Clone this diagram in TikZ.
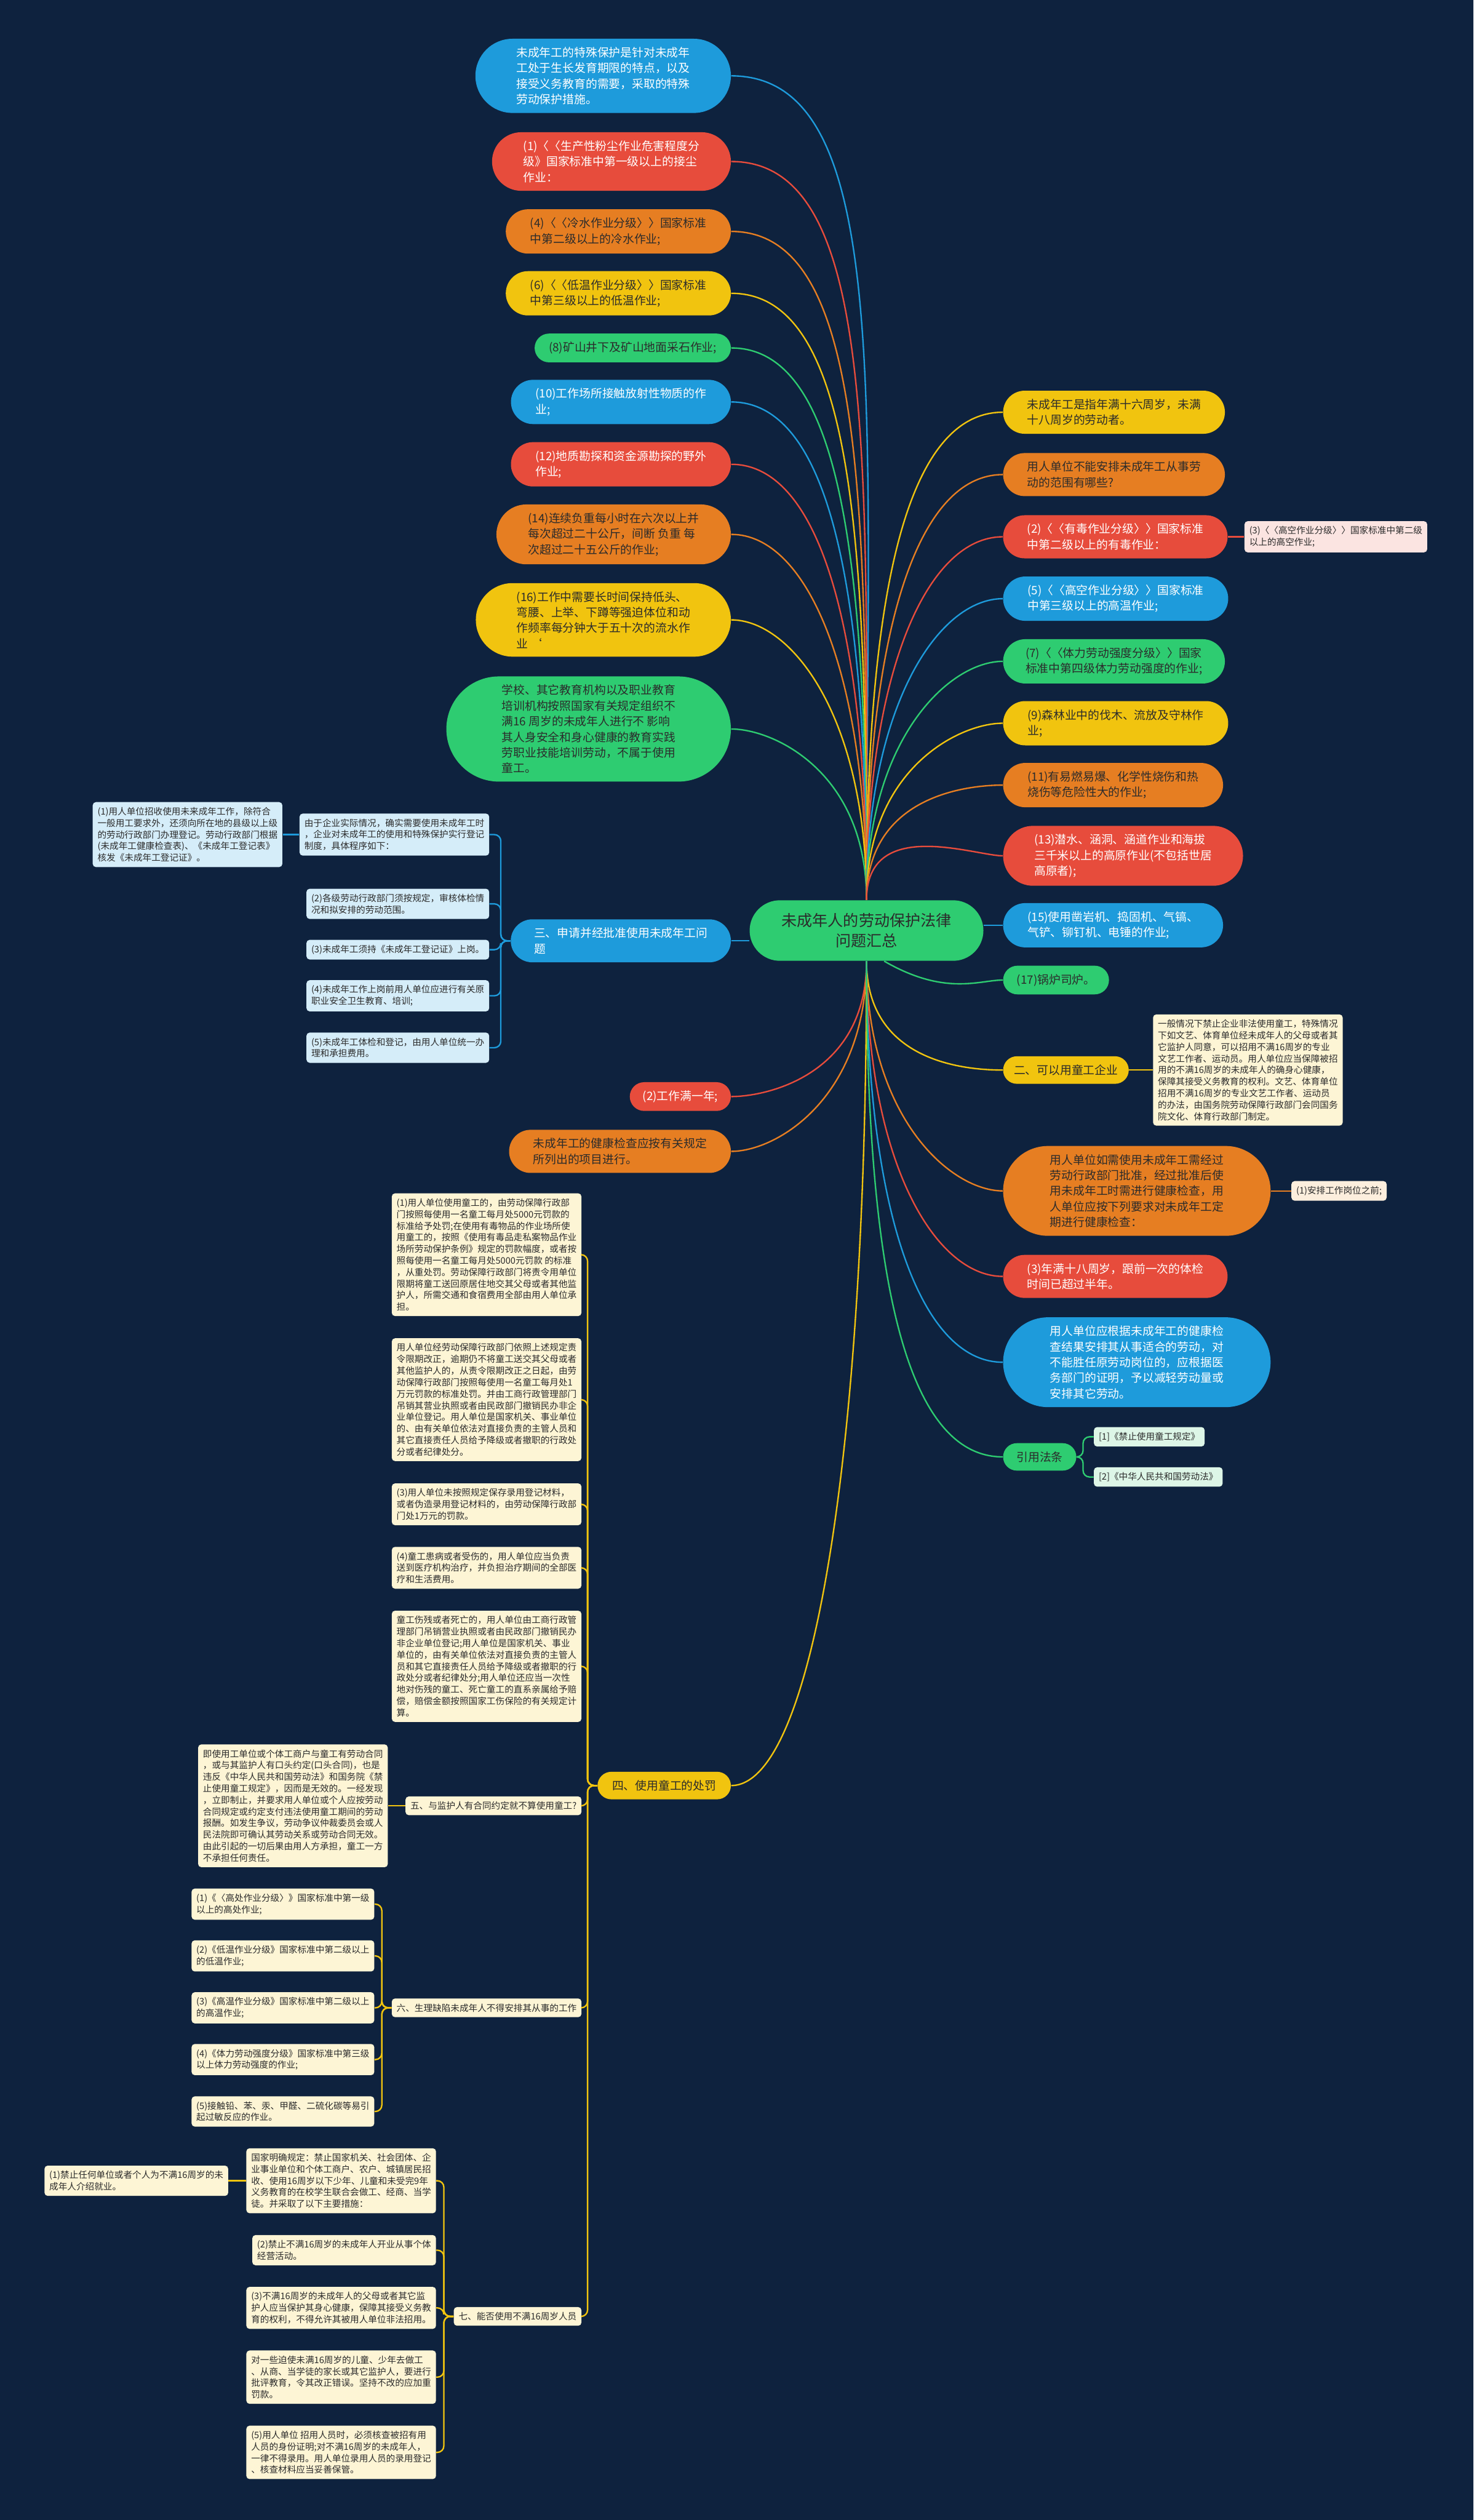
\documentclass[tikz,border=0pt]{standalone}
\usepackage{fontspec}
\setmainfont{Noto Sans CJK SC}
\usetikzlibrary{positioning, shapes.misc, calc}

\definecolor{navy}{RGB}{14,34,62}
\definecolor{mapblue}{HTML}{1E9BDB}
\definecolor{mapred}{HTML}{E74C3C}
\definecolor{maporange}{HTML}{E67E22}
\definecolor{mapyellow}{HTML}{F1C40F}
\definecolor{mapgreen}{HTML}{2ECC71}
\definecolor{inkdark}{HTML}{2B2B2B}
\definecolor{paleblue}{HTML}{D5EDF9}
\definecolor{cream}{HTML}{FDF5D5}
\definecolor{palepink}{HTML}{FBE4E1}
\definecolor{palepeach}{HTML}{FCEEDD}
\definecolor{palegreen}{HTML}{DDF6E7}

\begin{document}
\begin{tikzpicture}[x=1pt, y=-1pt,
    % Define styles for the coloured topic pills
    topic/.style={rounded rectangle, inner xsep=12.2pt, inner ysep=5.2pt, align=left, font=\fontsize{7.2}{9.7}\selectfont},
    pad/.style={inner xsep=#1},
    tblue/.style={topic, fill=mapblue, text=white},
    tred/.style={topic, fill=mapred, text=white},
    torange/.style={topic, fill=maporange, text=inkdark},
    tyellow/.style={topic, fill=mapyellow, text=inkdark},
    tgreen/.style={topic, fill=mapgreen, text=inkdark},
    % Define style for the small detail boxes
    detail/.style={rectangle, rounded corners=2pt, inner xsep=3pt, inner ysep=3.2pt, align=left, text=inkdark, font=\fontsize{5.6}{7.2}\selectfont},
    % Define edge styles
    link/.style={line width=0.9pt, out looseness=1.5, in looseness=0.5},
    fork/.style={line width=0.9pt, rounded corners=4pt}
]

    % --- Configuration ---
    \def\leftEdge{455}    % right end of the left column
    \def\rightEdge{624}   % left end of the right column

    % --- Helper Macros for Connections ---
    % Arguments: (hub, leaving angle, topic, colour)
    \newcommand{\toleft}[4]{\draw[link, #4] (#1) to[out=#2, in=0] (#3.east);}
    \newcommand{\toright}[4]{\draw[link, #4] (#1) to[out=#2, in=180] (#3.west);}
    % Arguments: (parent, child, colour)
    \newcommand{\forkleft}[3]{\draw[fork, #3] (#1.west) -- ++(-6,0) |- (#2.east);}
    \newcommand{\forkright}[3]{\draw[fork, #3] (#1.east) -- ++(4,0) |- (#2.west);}

    % --- Canvas ---
    \fill[navy] (0,0) rectangle (917,1568);
    \useasboundingbox (0,0) rectangle (917,1568);

    % --- The Central Topic ---
    \node[topic, fill=mapgreen, text=inkdark, align=center, pad=16.5pt, inner ysep=8pt,
          font=\fontsize{9.6}{12.8}\selectfont] (C) at (539.2,579) {未成年人的劳动保护法律\\问题汇总};

    % ================= LEFT UPPER COLUMN =================
    \node[tblue, anchor=east, pad=17pt] (L1) at (\leftEdge,47.2) {未成年工的特殊保护是针对未成年\\工处于生长发育期限的特点，以及\\接受义务教育的需要，采取的特殊\\劳动保护措施。};
    \node[tred, anchor=east, pad=14pt] (L2) at (\leftEdge,100.5) {(1)〈〈生产性粉尘作业危害程度分\\级》国家标准中第一级以上的接尘\\作业：};
    \node[torange, anchor=east] (L3) at (\leftEdge,144) {(4)〈〈冷水作业分级〉〉国家标准\\中第二级以上的冷水作业;};
    \node[tyellow, anchor=east] (L4) at (\leftEdge,182.5) {(6)〈〈低温作业分级〉〉国家标准\\中第三级以上的低温作业;};
    \node[tgreen, anchor=east, pad=8pt] (L5) at (\leftEdge,216.5) {(8)矿山井下及矿山地面采石作业;};
    \node[tblue, anchor=east] (L6) at (\leftEdge,250.1) {(10)工作场所接触放射性物质的作\\业;};
    \node[tred, anchor=east] (L7) at (\leftEdge,288.9) {(12)地质勘探和资金源勘探的野外\\作业;};
    \node[torange, anchor=east, pad=14pt] (L8) at (\leftEdge,332.5) {(14)连续负重每小时在六次以上并\\每次超过二十公斤，间断 负重 每\\次超过二十五公斤的作业;};
    \node[tyellow, anchor=east, pad=17pt] (L9) at (\leftEdge,385.7) {(16)工作中需要长时间保持低头、\\弯腰、上举、下蹲等强迫体位和动\\作频率每分钟大于五十次的流水作\\业 ‘};
    \node[tgreen, anchor=east, pad=19.5pt] (L10) at (\leftEdge,453.6) {学校、其它教育机构以及职业教育\\培训机构按照国家有关规定组织不\\满16 周岁的未成年人进行不 影响\\其人身安全和身心健康的教育实践\\劳职业技能培训劳动，不属于使用\\童工。};

    % --- Connect Left Upper Column ---
    \toleft{C.north}{90}{L1}{mapblue}
    \toleft{C.north}{90}{L2}{mapred}
    \toleft{C.north}{90}{L3}{maporange}
    \toleft{C.north}{90}{L4}{mapyellow}
    \toleft{C.north}{90}{L5}{mapgreen}
    \toleft{C.north}{90}{L6}{mapblue}
    \toleft{C.north}{90}{L7}{mapred}
    \toleft{C.north}{90}{L8}{maporange}
    \toleft{C.north}{90}{L9}{mapyellow}
    \toleft{C.north}{90}{L10}{mapgreen}

    % ================= SECTION THREE =================
    \node[tblue, anchor=east, pad=11.7pt] (San) at (\leftEdge,585.4) {三、申请并经批准使用未成年工问\\题};
    \draw[link, mapblue] (San.east) -- (San.east -| C.west);

    \node[detail, fill=paleblue, anchor=east] (Sa) at (304.6,519.3) {由于企业实际情况，确实需要使用未成年工时\\，企业对未成年工的使用和特殊保护实行登记\\制度，具体程序如下：};
    \node[detail, fill=paleblue, anchor=east] (Sa1) at (175.9,519.3) {(1)用人单位招收使用未来成年工作，除符合\\一般用工要求外，还须向所在地的县级以上级\\的劳动行政部门办理登记。劳动行政部门根据\\(未成年工健康检查表)、《未成年工登记表》\\核发《未成年工登记证》。};
    \node[detail, fill=paleblue, anchor=east] (Sb) at (304.6,562.4) {(2)各级劳动行政部门须按规定，审核体检情\\况和拟安排的劳动范围。};
    \node[detail, fill=paleblue, anchor=east] (Sc) at (304.6,590.9) {(3)未成年工须持《未成年工登记证》上岗。};
    \node[detail, fill=paleblue, anchor=east] (Sd) at (304.6,619.6) {(4)未成年工作上岗前用人单位应进行有关原\\职业安全卫生教育、培训;};
    \node[detail, fill=paleblue, anchor=east] (Se) at (304.6,651.9) {(5)未成年工体检和登记，由用人单位统一办\\理和承担费用。};

    \foreach \n in {Sa,Sb,Sc,Sd,Se} {\forkleft{San}{\n}{mapblue}}
    \draw[link, mapblue] (Sa.west) -- (Sa1.east);

    % ================= LEFT LOWER COLUMN =================
    \node[tred, anchor=east, pad=7.2pt] (W1) at (\leftEdge,682.3) {(2)工作满一年;};
    \node[torange, anchor=east] (HC) at (\leftEdge,716.4) {未成年工的健康检查应按有关规定\\所列出的项目进行。};
    \node[tyellow, anchor=east, pad=8.4pt] (Si) at (\leftEdge,1111) {四、使用童工的处罚};

    \toleft{C.south}{-90}{W1}{mapred}
    \toleft{C.south}{-90}{HC}{maporange}
    \draw[link, mapyellow, in looseness=0.25] (C.south) to[out=-90, in=0] (Si.east);

    % --- Penalties (children of section four) ---
    \node[detail, fill=cream, anchor=east] (P1) at (362,780.7) {(1)用人单位使用童工的，由劳动保障行政部\\门按照每使用一名童工每月处5000元罚款的\\标准给予处罚;在使用有毒物品的作业场所使\\用童工的，按照《使用有毒品走私案物品作业\\场所劳动保护条例》规定的罚款幅度，或者按\\照每使用一名童工每月处5000元罚款 的标准\\，从重处罚。劳动保障行政部门将责令用单位\\限期将童工送回原居住地交其父母或者其他监\\护人，所需交通和食宿费用全部由用人单位承\\担。};
    \node[detail, fill=cream, anchor=east] (P2) at (362,870.9) {用人单位经劳动保障行政部门依照上述规定责\\令限期改正，逾期仍不将童工送交其父母或者\\其他监护人的，从责令限期改正之日起，由劳\\动保障行政部门按照每使用一名童工每月处1\\万元罚款的标准处罚。并由工商行政管理部门\\吊销其营业执照或者由民政部门撤销民办非企\\业单位登记。用人单位是国家机关、事业单位\\的、由有关单位依法对直接负责的主管人员和\\其它直接责任人员给予降级或者撤职的行政处\\分或者纪律处分。};
    \node[detail, fill=cream, anchor=east] (P3) at (362,936) {(3)用人单位未按照规定保存录用登记材料，\\或者伪造录用登记材料的，由劳动保障行政部\\门处1万元的罚款。};
    \node[detail, fill=cream, anchor=east] (P4) at (362,975.5) {(4)童工患病或者受伤的，用人单位应当负责\\送到医疗机构治疗，并负担治疗期间的全部医\\疗和生活费用。};
    \node[detail, fill=cream, anchor=east] (P5) at (362,1036.8) {童工伤残或者死亡的，用人单位由工商行政管\\理部门吊销营业执照或者由民政部门撤销民办\\非企业单位登记;用人单位是国家机关、事业\\单位的，由有关单位依法对直接负责的主管人\\员和其它直接责任人员给予降级或者撤职的行\\政处分或者纪律处分;用人单位还应当一次性\\地对伤残的童工、死亡童工的直系亲属给予赔\\偿，赔偿金额按照国家工伤保险的有关规定计\\算。};
    \node[detail, fill=cream, anchor=east] (Wu) at (362,1123.6) {五、与监护人有合同约定就不算使用童工?};
    \node[detail, fill=cream, anchor=east] (Liu) at (362,1249.3) {六、生理缺陷未成年人不得安排其从事的工作};
    \node[detail, fill=cream, anchor=east] (Qi) at (362,1441.3) {七、能否使用不满16周岁人员};

    \foreach \n in {P1,P2,P3,P4,P5,Wu,Liu,Qi} {\forkleft{Si}{\n}{mapyellow}}

    % --- Section five ---
    \node[detail, fill=cream, anchor=east] (Wu1) at (241.5,1123.6) {即使用工单位或个体工商户与童工有劳动合同\\，或与其监护人有口头约定(口头合同)，也是\\违反《中华人民共和国劳动法》和国务院《禁\\止使用童工规定》，因而是无效的。一经发现\\，立即制止，并要求用人单位或个人应按劳动\\合同规定或约定支付违法使用童工期间的劳动\\报酬。如发生争议，劳动争议仲裁委员会或人\\民法院即可确认其劳动关系或劳动合同无效。\\由此引起的一切后果由用人方承担，童工一方\\不承担任何责任。};
    \draw[link, mapyellow] (Wu.west) -- (Wu1.east);

    % --- Section six ---
    \node[detail, fill=cream, anchor=east] (Liu1) at (233.1,1184.8) {(1)《〈高处作业分级〉》国家标准中第一级\\以上的高处作业;};
    \node[detail, fill=cream, anchor=east] (Liu2) at (233.1,1217) {(2)《低温作业分级》国家标准中第二级以上\\的低温作业;};
    \node[detail, fill=cream, anchor=east] (Liu3) at (233.1,1249.3) {(3)《高温作业分级》国家标准中第二级以上\\的高温作业;};
    \node[detail, fill=cream, anchor=east] (Liu4) at (233.1,1281.5) {(4)《体力劳动强度分级》国家标准中第三级\\以上体力劳动强度的作业;};
    \node[detail, fill=cream, anchor=east] (Liu5) at (233.1,1313.8) {(5)接触铅、苯、汞、甲醛、二硫化碳等易引\\起过敏反应的作业。};

    \foreach \n in {Liu1,Liu2,Liu3,Liu4,Liu5} {\forkleft{Liu}{\n}{mapyellow}}

    % --- Section seven ---
    \node[detail, fill=cream, anchor=east] (Qi1) at (271.5,1356.9) {国家明确规定：禁止国家机关、社会团体、企\\业事业单位和个体工商户、农户、城镇居民招\\收、使用16周岁以下少年、儿童和未受完9年\\义务教育的在校学生联合会做工、经商、当学\\徒。并采取了以下主要措施：};
    \node[detail, fill=cream, anchor=east] (Qi1a) at (142.2,1356.9) {(1)禁止任何单位或者个人为不满16周岁的未\\成年人介绍就业。};
    \node[detail, fill=cream, anchor=east] (Qi2) at (271.5,1400.1) {(2)禁止不满16周岁的未成年人开业从事个体\\经营活动。};
    \node[detail, fill=cream, anchor=east] (Qi3) at (271.5,1436) {(3)不满16周岁的未成年人的父母或者其它监\\护人应当保护其身心健康，保障其接受义务教\\育的权利，不得允许其被用人单位非法招用。};
    \node[detail, fill=cream, anchor=east] (Qi4) at (271.5,1479.1) {对一些迫使未满16周岁的儿童、少年去做工\\、从商、当学徒的家长或其它监护人，要进行\\批评教育，令其改正错误。坚持不改的应加重\\罚款。};
    \node[detail, fill=cream, anchor=east] (Qi5) at (271.5,1525.9) {(5)用人单位 招用人员时，必须核查被招有用\\人员的身份证明;对不满16周岁的未成年人，\\一律不得录用。用人单位录用人员的录用登记\\、核查材料应当妥善保管。};

    \foreach \n in {Qi1,Qi2,Qi3,Qi4,Qi5} {\forkleft{Qi}{\n}{mapyellow}}
    \draw[link, mapyellow] (Qi1.west) -- (Qi1a.east);

    % ================= RIGHT COLUMN =================
    \node[tyellow, anchor=west] (R1) at (\rightEdge,256.5) {未成年工是指年满十六周岁，未满\\十八周岁的劳动者。};
    \node[torange, anchor=west] (R2) at (\rightEdge,295.3) {用人单位不能安排未成年工从事劳\\动的范围有哪些?};
    \node[tred, anchor=west] (R3) at (\rightEdge,334) {(2)〈〈有毒作业分级〉〉国家标准\\中第二级以上的有毒作业：};
    \node[tblue, anchor=west] (R4) at (\rightEdge,372.5) {(5)〈〈高空作业分级〉〉国家标准\\中第三级以上的高温作业;};
    \node[tgreen, anchor=west, pad=11pt] (R5) at (\rightEdge,411.5) {(7)〈〈体力劳动强度分级〉〉国家\\标准中第四级体力劳动强度的作业;};
    \node[tyellow, anchor=west] (R6) at (\rightEdge,450) {(9)森林业中的伐木、流放及守林作\\业;};
    \node[torange, anchor=west] (R7) at (\rightEdge,488.5) {(11)有易燃易爆、化学性烧伤和热\\烧伤等危险性大的作业;};
    \node[tred, anchor=west, pad=13.7pt] (R8) at (\rightEdge,532.5) {(13)潜水、涵洞、涵道作业和海拔\\三千米以上的高原作业(不包括世居\\高原者);};
    \node[tblue, anchor=west] (R9) at (\rightEdge,575.7) {(15)使用凿岩机、捣固机、气镐、\\气铲、铆钉机、电锤的作业;};
    \node[tgreen, anchor=west, pad=7.7pt] (R10) at (\rightEdge,609.8) {(17)锅炉司炉。};
    \node[tyellow, anchor=west, pad=6pt] (R11) at (\rightEdge,665.8) {二、可以用童工企业};
    \node[torange, anchor=west, pad=17.5pt] (R12) at (\rightEdge,741) {用人单位如需使用未成年工需经过\\劳动行政部门批准，经过批准后使\\用未成年工时需进行健康检查，用\\人单位应按下列要求对未成年工定\\期进行健康检查：};
    \node[tred, anchor=west] (R13) at (\rightEdge,794.2) {(3)年满十八周岁，跟前一次的体检\\时间已超过半年。};
    \node[tblue, anchor=west, pad=17.5pt] (R14) at (\rightEdge,847.6) {用人单位应根据未成年工的健康检\\查结果安排其从事适合的劳动，对\\不能胜任原劳动岗位的，应根据医\\务部门的证明，予以减轻劳动量或\\安排其它劳动。};
    \node[tgreen, anchor=west, pad=7.7pt] (R15) at (\rightEdge,906.5) {引用法条};

    % --- Right leaves ---
    \node[detail, fill=palepink, anchor=west] (R3a) at (774.2,334) {(3)〈〈高空作业分级〉〉国家标准中第二级\\以上的高空作业;};
    \node[detail, fill=cream, anchor=west] (R11a) at (717.3,665.8) {一般情况下禁止企业非法使用童工，特殊情况\\下如文艺、体育单位经未成年人的父母或者其\\它监护人同意，可以招用不满16周岁的专业\\文艺工作者、运动员。用人单位应当保障被招\\用的不满16周岁的未成年人的确身心健康，\\保障其接受义务教育的权利。文艺、体育单位\\招用不满16周岁的专业文艺工作者、运动员\\的办法，由国务院劳动保障行政部门会同国务\\院文化、体育行政部门制定。};
    \node[detail, fill=palepeach, anchor=west] (R12a) at (803.4,741) {(1)安排工作岗位之前;};
    \node[detail, fill=palegreen, anchor=west] (R15a) at (680.5,894) {[1]《禁止使用童工规定》};
    \node[detail, fill=palegreen, anchor=west] (R15b) at (680.5,919) {[2]《中华人民共和国劳动法》};

    % --- Connect Right Column ---
    \toright{C.north}{90}{R1}{mapyellow}
    \toright{C.north}{90}{R2}{maporange}
    \toright{C.north}{90}{R3}{mapred}
    \toright{C.north}{90}{R4}{mapblue}
    \toright{C.north}{90}{R5}{mapgreen}
    \toright{C.north}{90}{R6}{mapyellow}
    \toright{C.north}{90}{R7}{maporange}
    \toright{C.north}{90}{R8}{mapred}
    \draw[link, mapblue] (R9.west -| C.east) -- (R9.west);
    \draw[link, mapgreen] (C.-60) to[out=-30, in=180] (R10.west);
    \toright{C.south}{-90}{R11}{mapyellow}
    \toright{C.south}{-90}{R12}{maporange}
    \toright{C.south}{-90}{R13}{mapred}
    \toright{C.south}{-90}{R14}{mapblue}
    \toright{C.south}{-90}{R15}{mapgreen}

    \draw[link, mapred] (R3.east) -- (R3a.west);
    \draw[link, mapyellow] (R11.east) -- (R11a.west);
    \draw[link, maporange] (R12.east) -- (R12a.west);
    \forkright{R15}{R15a}{mapgreen}
    \forkright{R15}{R15b}{mapgreen}

\end{tikzpicture}
\end{document}
